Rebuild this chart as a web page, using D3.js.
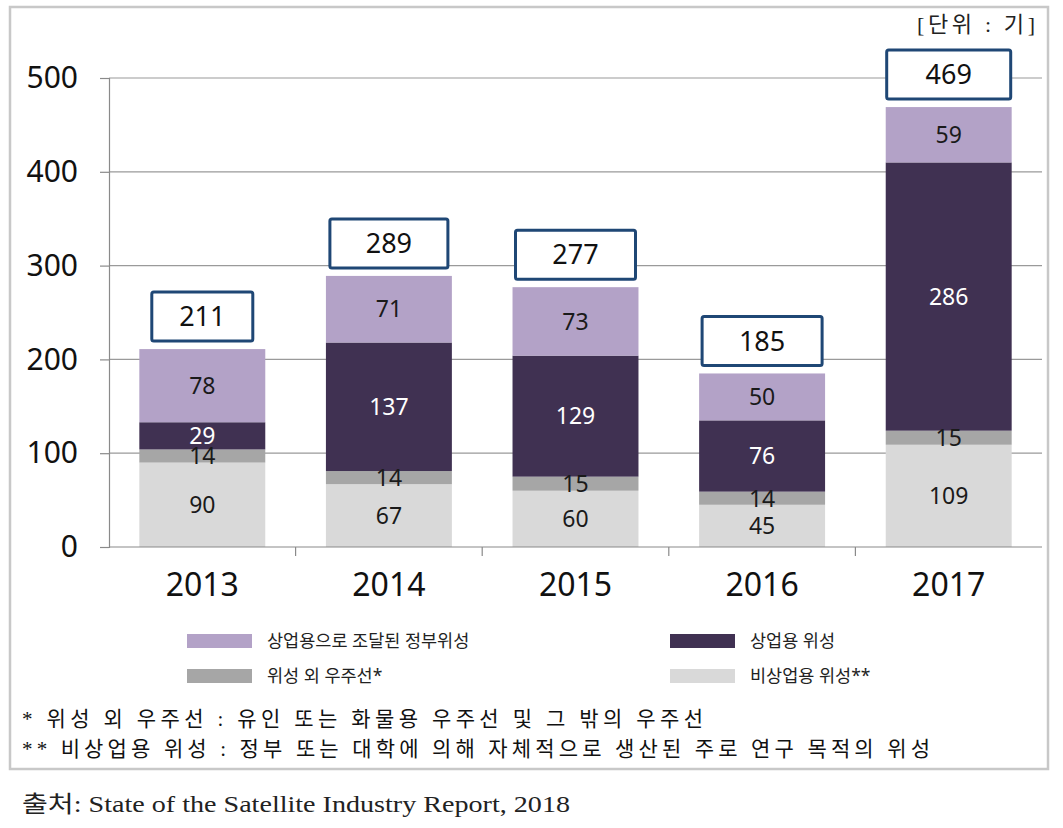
<!DOCTYPE html>
<html>
<head>
<meta charset="utf-8">
<script src="https://cdn.jsdelivr.net/npm/d3@7"></script>
<style>
  body { margin: 0; background: #fff; }
  svg { display: block; }
</style>
</head>
<body>
<div id="chart"></div>
<script>
const years = ['2013', '2014', '2015', '2016', '2017']
// stack order, bottom to top
const seriesNames = ['비상업용 위성**', '위성 외 우주선*', '상업용 위성', '상업용으로 조달된 정부위성']
const nonCommercial = [90, 67, 60, 45, 109]
const otherSpacecraft = [14, 14, 15, 14, 15]
const commercial = [29, 137, 129, 76, 286]
const govCommercial = [78, 71, 73, 50, 59]
const totals = [211, 289, 277, 185, 469]
const yTicks = [0, 100, 200, 300, 400, 500]
const unitLabel = '[단위 : 기]'
const notes = [
    '* 위성 외 우주선 : 유인 또는 화물용 우주선 및 그 밖의 우주선',
    '** 비상업용 위성 : 정부 또는 대학에 의해 자체적으로 생산된 주로 연구 목적의 위성'
]
const sourceText = '출처: State of the Satellite Industry Report, 2018'

const colors = ['#d9d9d9', '#a6a6a6', '#403152', '#b3a2c7']
const labelColors = ['#1a1a1a', '#1a1a1a', '#ffffff', '#1a1a1a']
// total box widths differ slightly per year in the original
const boxWidths = [101, 118, 120, 120, 124]

const width = 1063, height = 828
const margin = { top: 78, bottom: 281, left: 109, right: 21 }
const sansFont = '"Noto Sans", "Noto Sans CJK KR", sans-serif'
const serifFont = '"Liberation Serif", "Noto Sans CJK KR", serif'

const table = years.map((year, i) => ({
    year,
    s0: nonCommercial[i], s1: otherSpacecraft[i], s2: commercial[i], s3: govCommercial[i],
    total: totals[i], boxW: boxWidths[i]
}))
const keys = ['s0', 's1', 's2', 's3']
const stacked = d3.stack().keys(keys)(table)

const svg = d3.select('#chart')
    .append('svg')
    .attr('width', width)
    .attr('height', height)

// outer frame
svg.append('rect')
    .attr('x', 10).attr('y', 7)
    .attr('width', 1038).attr('height', 762)
    .attr('fill', 'none')
    .attr('stroke', '#c8c8c8')
    .attr('stroke-width', 2.5)

const x = d3.scaleBand()
    .domain(years)
    .range([margin.left, width - margin.right])
    .paddingInner(0.325)
    .paddingOuter(0.1625)

const xOuter = d3.scaleBand()
    .domain(years)
    .range([margin.left, width - margin.right])

const y = d3.scaleLinear()
    .domain([0, 500])
    .range([height - margin.bottom, margin.top])

// gridlines
svg.append('g')
    .selectAll('line')
    .data(yTicks.slice(1))
    .join('line')
    .attr('x1', margin.left)
    .attr('x2', width - margin.right)
    .attr('y1', d => y(d))
    .attr('y2', d => y(d))
    .attr('stroke', '#9a9a9a')
    .attr('stroke-width', 1.2)

// bars
const layer = svg.append('g')
    .selectAll('g')
    .data(stacked)
    .join('g')
    .attr('fill', (d, i) => colors[i])

layer.selectAll('rect')
    .data(d => d)
    .join('rect')
    .attr('x', d => x(d.data.year))
    .attr('y', d => y(d[1]))
    .attr('height', d => y(d[0]) - y(d[1]))
    .attr('width', x.bandwidth())

// segment labels
svg.append('g')
    .selectAll('g')
    .data(stacked)
    .join('g')
    .attr('fill', (d, i) => labelColors[i])
    .selectAll('text')
    .data(d => d)
    .join('text')
    .attr('x', d => x(d.data.year) + x.bandwidth() / 2)
    .attr('y', d => (y(d[0]) + y(d[1])) / 2)
    .attr('dy', '0.36em')
    .attr('text-anchor', 'middle')
    .attr('font-family', sansFont)
    .attr('font-size', 23)
    .text(d => d[1] - d[0])

// y axis
const yAxis = svg.append('g')
    .attr('transform', `translate(${margin.left},0)`)
    .call(d3.axisLeft(y).tickValues(yTicks).tickSize(9).tickPadding(22))
yAxis.select('.domain').attr('stroke', '#8a8a8a').attr('stroke-width', 1.2)
yAxis.selectAll('.tick line').attr('stroke', '#8a8a8a').attr('stroke-width', 1.2)
yAxis.selectAll('.tick text')
    .attr('font-family', sansFont)
    .attr('font-size', 30)
    .attr('fill', '#111')

// x axis
const xAxisG = svg.append('g')
    .attr('transform', `translate(0,${height - margin.bottom})`)
xAxisG.append('line')
    .attr('x1', margin.left).attr('x2', width - margin.right)
    .attr('stroke', '#8a8a8a').attr('stroke-width', 1.2)
xAxisG.selectAll('.sep')
    .data(years.slice(1))
    .join('line')
    .attr('class', 'sep')
    .attr('x1', d => xOuter(d)).attr('x2', d => xOuter(d))
    .attr('y1', 0).attr('y2', 9)
    .attr('stroke', '#8a8a8a').attr('stroke-width', 1.2)
xAxisG.selectAll('text')
    .data(years)
    .join('text')
    .attr('x', d => xOuter(d) + xOuter.bandwidth() / 2)
    .attr('y', 49)
    .attr('text-anchor', 'middle')
    .attr('font-family', sansFont)
    .attr('font-size', 32)
    .attr('fill', '#111')
    .text(d => d)

// total boxes
const boxH = 49
const totalG = svg.append('g')
    .selectAll('g')
    .data(table)
    .join('g')
    .attr('transform', d => `translate(${x(d.year) + x.bandwidth() / 2},${y(d.total) - 8 - boxH})`)
totalG.append('rect')
    .attr('x', d => -d.boxW / 2).attr('y', 0)
    .attr('width', d => d.boxW).attr('height', boxH)
    .attr('fill', '#fff')
    .attr('stroke', '#1f4775')
    .attr('stroke-width', 3)
    .attr('rx', 2)
totalG.append('text')
    .attr('y', boxH / 2)
    .attr('dy', '0.36em')
    .attr('text-anchor', 'middle')
    .attr('font-family', sansFont)
    .attr('font-size', 27)
    .attr('fill', '#111')
    .text(d => d.total)

// unit label
svg.append('text')
    .attr('x', 917).attr('y', 32)
    .attr('font-family', serifFont)
    .attr('font-size', 22)
    .attr('fill', '#222')
    .attr('textLength', 118)
    .attr('lengthAdjust', 'spacing')
    .text(unitLabel)

// legend: [series index, x, y]
const legendItems = [[3, 187, 641], [2, 670, 641], [1, 187, 676], [0, 670, 676]]
const legend = svg.append('g')
    .selectAll('g')
    .data(legendItems)
    .join('g')
    .attr('transform', d => `translate(${d[1]},${d[2]})`)
legend.append('rect')
    .attr('x', 0).attr('y', -7)
    .attr('width', 65).attr('height', 14)
    .attr('fill', d => colors[d[0]])
legend.append('text')
    .attr('x', 80)
    .attr('dy', '0.35em')
    .attr('font-family', sansFont)
    .attr('font-size', 17.5)
    .attr('fill', '#222')
    .text(d => seriesNames[d[0]])

// footnotes
const noteLengths = [681, 908]
svg.append('g')
    .selectAll('text')
    .data(notes)
    .join('text')
    .attr('x', 22)
    .attr('y', (d, i) => 726 + i * 30)
    .attr('font-family', serifFont)
    .attr('font-size', 21)
    .attr('fill', '#111')
    .attr('textLength', (d, i) => noteLengths[i])
    .attr('lengthAdjust', 'spacing')
    .text(d => d)

svg.append('text')
    .attr('x', 22).attr('y', 812)
    .attr('font-family', serifFont)
    .attr('font-size', 23)
    .attr('fill', '#222')
    .attr('textLength', 548)
    .attr('lengthAdjust', 'spacingAndGlyphs')
    .text(sourceText)
</script>
</body>
</html>
